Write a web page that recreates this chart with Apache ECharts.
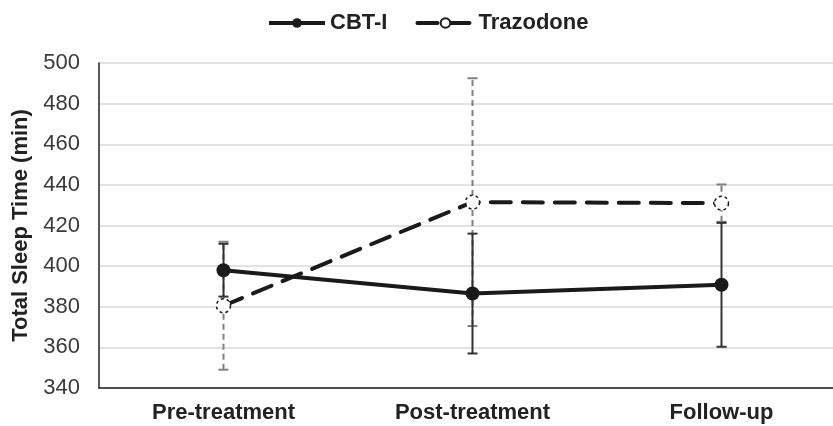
<!DOCTYPE html>
<html><head><meta charset="utf-8">
<script src="https://cdn.jsdelivr.net/npm/echarts@6/dist/echarts.min.js"></script>
<style>html,body{margin:0;padding:0;background:#fff}#c{width:833px;height:426px}</style>
</head><body><div id="c"></div>
<script>
const categories = ['Pre-treatment', 'Post-treatment', 'Follow-up'];
const cbtMean = [398, 386.5, 390.8];
const cbtErr = [13, 29.5, 30.5];
const trazMean = [380.5, 431.5, 431];
const trazErr = [31.5, 61, 9.2];
const yTicks = [340, 360, 380, 400, 420, 440, 460, 480, 500];

const font = '"Liberation Sans", Arial, sans-serif';
const chart = echarts.init(document.getElementById('c'));

function errSeries(name, means, errs, color, dashed, z) {
  return {
    type: 'custom', name: name + ' err', z: z, silent: true,
    data: means.map((m, i) => [i, m - errs[i], m + errs[i]]),
    renderItem: function (params, api) {
      const x = api.value(0);
      const lo = api.coord([x, api.value(1)]);
      const hi = api.coord([x, api.value(2)]);
      const hw = 5;
      const st = { stroke: color, lineWidth: 2, lineDash: dashed ? [6, 4] : null };
      const cs = { stroke: color, lineWidth: 2 };
      return { type: 'group', children: [
        { type: 'line', shape: { x1: lo[0], y1: lo[1], x2: hi[0], y2: hi[1] }, style: st },
        { type: 'line', shape: { x1: lo[0] - hw, y1: lo[1], x2: lo[0] + hw, y2: lo[1] }, style: cs },
        { type: 'line', shape: { x1: hi[0] - hw, y1: hi[1], x2: hi[0] + hw, y2: hi[1] }, style: cs }
      ]};
    }
  };
}

chart.setOption({
  animation: false,
  legend: {
    top: 7, left: 262, itemWidth: 56, itemHeight: 12, itemGap: 28,
    textStyle: { fontFamily: font, fontSize: 22, fontWeight: 'bold', color: '#222' },
    lineStyle: { width: 4 },
    data: ['CBT-I', 'Trazodone']
  },
  grid: { left: 99, top: 63, width: 747, height: 325, outerBoundsMode: 'none', containLabel: false },
  xAxis: {
    type: 'category', data: categories, boundaryGap: true,
    axisLine: { lineStyle: { color: '#222', width: 1.5 } },
    axisTick: { show: false },
    axisLabel: { fontFamily: font, fontSize: 22, fontWeight: 'bold', color: '#222', margin: 14 }
  },
  yAxis: {
    type: 'value', min: 340, max: 500, interval: 20,
    name: 'Total Sleep Time (min)', nameLocation: 'middle', nameGap: 65,
    nameTextStyle: { fontFamily: font, fontSize: 22, fontWeight: 'bold', color: '#222' },
    axisLine: { show: true, lineStyle: { color: '#222', width: 1.5 } },
    axisTick: { show: false },
    splitLine: { lineStyle: { color: '#d9d9d9', width: 1.5 } },
    axisLabel: { fontFamily: font, fontSize: 22, color: '#3a3a3a', margin: 19,
      formatter: v => yTicks.includes(v) ? String(v) : '' }
  },
  series: [
    errSeries('Trazodone', trazMean, trazErr, '#808080', true, 1),
    errSeries('CBT-I', cbtMean, cbtErr, '#333333', false, 2),
    {
      name: 'Trazodone', type: 'line', data: trazMean, z: 3,
      symbol: 'circle', symbolSize: 14,
      lineStyle: { color: '#1a1a1a', width: 4, type: [20, 12], cap: 'round' },
      itemStyle: { color: '#fff', borderColor: '#1a1a1a', borderWidth: 1.5, borderType: [3, 3] }
    },
    {
      name: 'CBT-I', type: 'line', data: cbtMean, z: 4,
      symbol: 'circle', symbolSize: 14,
      lineStyle: { color: '#1a1a1a', width: 4 },
      itemStyle: { color: '#1a1a1a' }
    }
  ]
});
</script></body></html>
